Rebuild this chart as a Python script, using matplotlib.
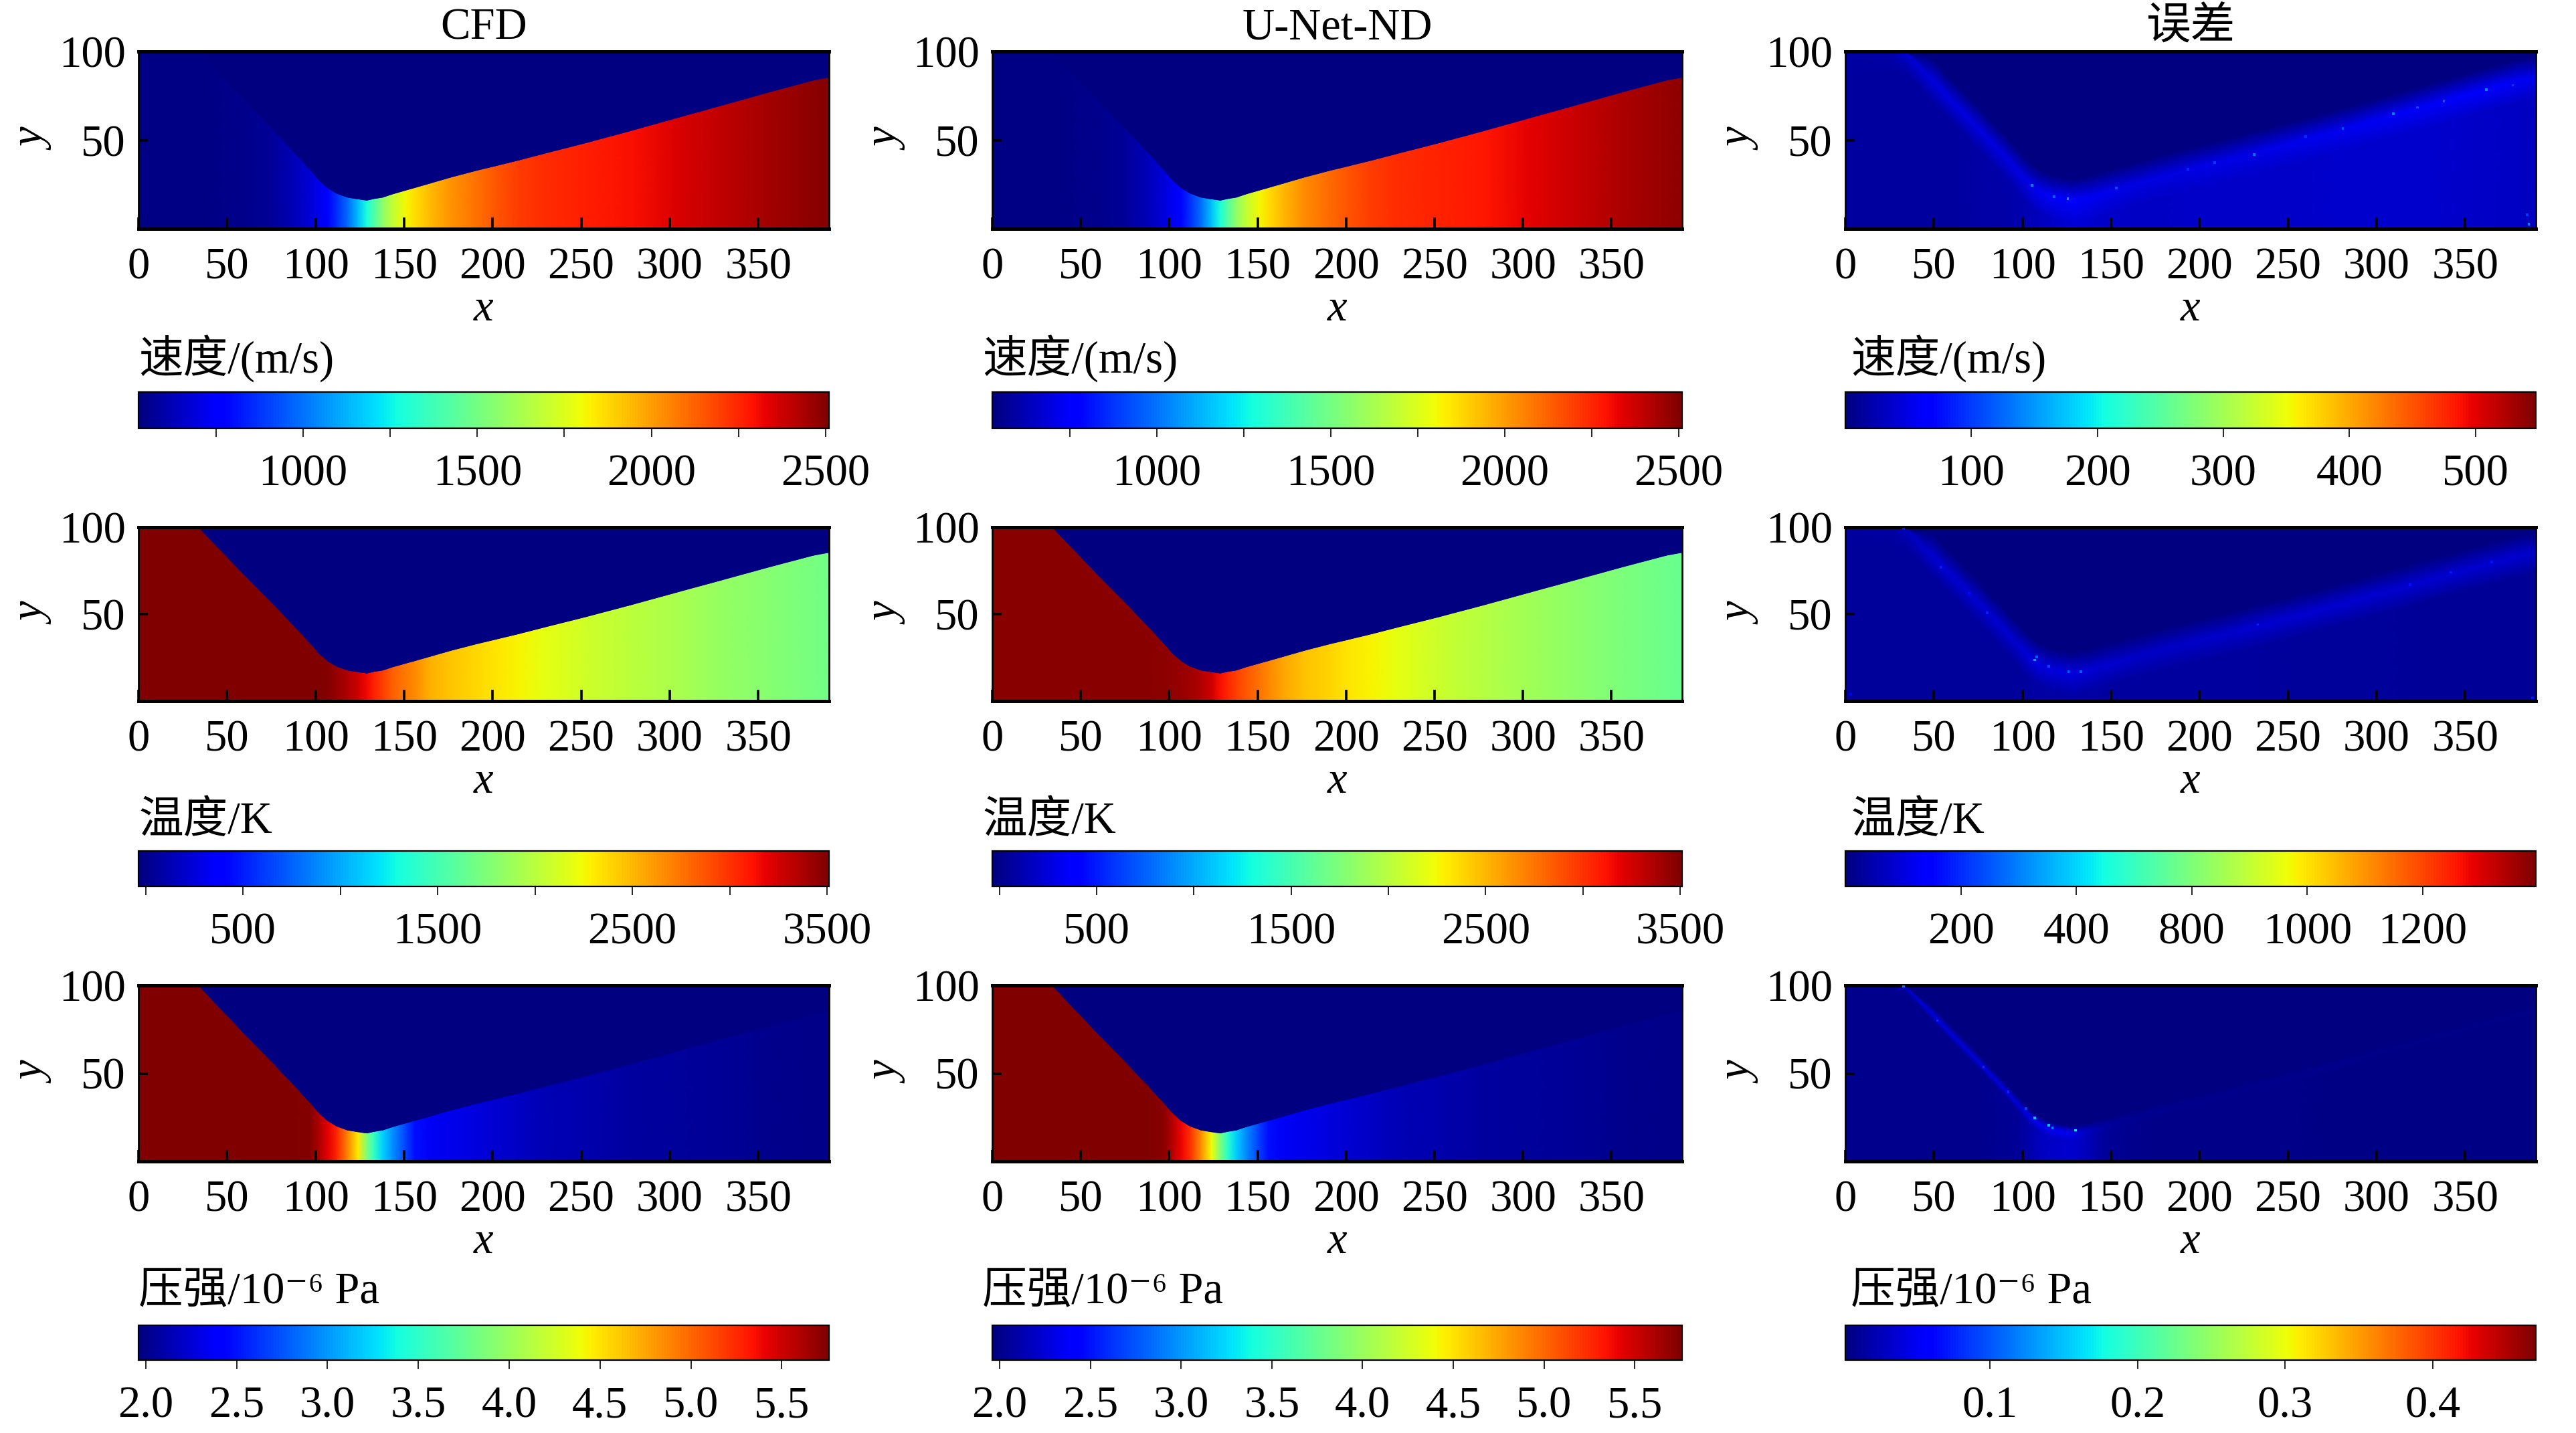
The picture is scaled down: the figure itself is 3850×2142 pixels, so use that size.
# -*- coding:utf-8 -*-

import numpy as np
import matplotlib
matplotlib.use('Agg')
import matplotlib.pyplot as plt
from matplotlib.colors import Normalize

plt.rcParams['font.family'] = ['Liberation Serif', 'Noto Sans CJK SC', 'DejaVu Sans']
plt.rcParams['axes.unicode_minus'] = False

# stations along the nozzle and the wall height there
station_x = [0, 26, 34, 49, 61, 74, 87, 97, 102, 107, 112, 118, 124, 129, 133, 138, 143,
             151, 156, 165, 176, 190, 202, 215, 228, 253, 279, 304, 330, 355, 381, 390]
wall_y = [100, 100, 100, 84, 71.4, 58, 44.3, 33.3, 27.5, 23, 20, 17.8, 16.8, 16.1, 17, 17.8, 19.5,
          21.8, 23.2, 25.8, 29, 32.7, 35.6, 38.8, 42.2, 48.6, 55.6, 62.6, 69.8, 76.8, 83.8, 85.5]

# gas values at the stations
speed_cfd = [537, 540, 542, 547, 553, 570, 620, 680, 720, 780, 864, 980, 1140, 1290, 1410, 1560, 1677,
             1810, 1860, 1940, 2020, 2090, 2150, 2205, 2235, 2265, 2295, 2350, 2400, 2445, 2482, 2495]
speed_unet = [537, 540, 542, 547, 553, 572, 625, 685, 725, 790, 875, 990, 1150, 1300, 1420, 1565, 1680,
              1810, 1865, 1945, 2030, 2100, 2155, 2205, 2235, 2260, 2285, 2335, 2385, 2430, 2470, 2485]
temp_cfd = [3515, 3515, 3515, 3515, 3515, 3515, 3512, 3510, 3505, 3490, 3440, 3370, 3262, 3155, 3066, 2942, 2836,
            2730, 2676, 2517, 2446, 2375, 2322, 2269, 2198, 2091, 2002, 1932, 1843, 1790, 1719, 1683]
temp_unet = [3480, 3475, 3470, 3470, 3480, 3470, 3470, 3460, 3450, 3440, 3410, 3350, 3270, 3130, 3040, 2950, 2860,
             2760, 2690, 2560, 2470, 2390, 2330, 2275, 2200, 2075, 1975, 1900, 1810, 1750, 1680, 1640]
press_cfd = [5.78, 5.78, 5.78, 5.78, 5.78, 5.78, 5.76, 5.74, 5.61, 5.42, 5.27, 4.89, 4.47, 3.86, 3.52, 3.21, 2.99,
             2.68, 2.49, 2.36, 2.32, 2.28, 2.23, 2.19, 2.15, 2.11, 2.07, 2.055, 2.036, 2.017, 2.0, 1.99]
press_unet = [5.78, 5.78, 5.78, 5.78, 5.78, 5.78, 5.76, 5.72, 5.58, 5.40, 5.22, 4.85, 4.40, 3.85, 3.50, 3.20, 2.97,
              2.66, 2.48, 2.36, 2.32, 2.28, 2.23, 2.19, 2.15, 2.11, 2.07, 2.055, 2.036, 2.017, 2.0, 1.99]

# error panels: value on the wall ridge and value in the gas under it
speed_err_ridge = [18, 20, 40, 46, 46, 46, 46, 48, 50, 54, 56, 58, 60, 60, 58, 56, 54,
                   52, 50, 48, 48, 48, 50, 50, 50, 52, 54, 56, 58, 60, 58, 50]
speed_err_below = [16, 16, 16, 17, 17, 18, 20, 22, 24, 28, 32, 36, 40, 42, 42, 40, 38,
                   36, 35, 34, 34, 35, 35, 36, 36, 36, 37, 38, 38, 36, 33, 30]
temp_err_ridge = [35, 38, 70, 88, 88, 88, 85, 88, 95, 105, 102, 100, 100, 100, 95, 90, 88,
                  85, 80, 78, 78, 78, 80, 84, 88, 85, 85, 85, 85, 88, 88, 78]
temp_err_below = [30, 30, 32, 32, 32, 32, 32, 32, 34, 38, 40, 40, 42, 44, 42, 40, 38,
                  36, 35, 34, 34, 34, 34, 34, 34, 32, 32, 30, 28, 26, 24, 24]
press_err_ridge = [.008, .008, .035, .042, .042, .042, .042, .042, .045, .050, .050, .050, .050, .045, .035, .026, .020,
                   .014, .012, .011, .010, .009, .009, .009, .009, .009, .008, .007, .007, .006, .006, .006]
press_err_below = [.008, .008, .008, .008, .008, .008, .010, .012, .018, .024, .030, .032, .034, .034, .030, .024, .018,
                   .012, .010, .008, .007, .007, .006, .006, .006, .006, .005, .005, .005, .004, .004, .004]
# brightest single cells in the error panels
speed_hot_x = [362, 338, 309.5, 281, 231, 153, 125.7, 118, 105.5, 386, 385, 377, 323, 260, 208.6, 193.5]
speed_hot_y = [78.6, 72, 65, 56.6, 42, 23, 17, 18, 24.5, 2.6, 8, 81, 68.5, 52, 37.4, 33.7]
speed_hot_v = [140, 120, 140, 110, 130, 110, 150, 120, 140, 140, 100, 100, 110, 90, 100, 90]
temp_hot_x = [107, 126, 133, 115, 80, 54, 233, 342, 365, 319, 33, 3, 388, 108, 70]
temp_hot_y = [23.6, 17, 17, 20, 50.7, 77, 44, 74, 80, 67, 99, 4, 2, 25.5, 62]
temp_hot_v = [340, 260, 260, 230, 190, 180, 190, 180, 170, 170, 170, 150, 170, 260, 160]
press_hot_x = [107, 115, 130, 117, 33, 52, 78, 92, 102]
press_hot_y = [24.7, 20.5, 17.7, 19, 99.7, 80, 53.6, 39.5, 30]
press_hot_v = [.15, .15, .17, .12, .12, .08, .08, .08, .09]

col_titles = ['CFD', 'U-Net-ND', '误差']
row_labels = ['速度/(m/s)', '温度/K', '压强/10⁻⁶ Pa']

# colour ranges
speed_range = (527, 2510)
temp_range = (-37, 3510)
press_range = (1.96, 5.76)
speed_err_range = (0, 548)
temp_err_range = (0, 1196)
press_err_range = (0.002, 0.47)

# colourbar ticks (every other one carries no label in the top rows)
speed_ticks = [750, 1000, 1250, 1500, 1750, 2000, 2250, 2500]
speed_tick_labels = ['', '1000', '', '1500', '', '2000', '', '2500']
temp_ticks = [0, 500, 1000, 1500, 2000, 2500, 3000, 3500]
temp_tick_labels = ['', '500', '', '1500', '', '2500', '', '3500']
press_ticks = [2.0, 2.5, 3.0, 3.5, 4.0, 4.5, 5.0, 5.5]
press_tick_labels = ['2.0', '2.5', '3.0', '3.5', '4.0', '4.5', '5.0', '5.5']
speed_err_ticks = [100, 200, 300, 400, 500]
speed_err_labels = ['100', '200', '300', '400', '500']
temp_err_ticks = [200, 400, 600, 800, 1000]
temp_err_labels = ['200', '400', '800', '1000', '1200']  # printed like this in the source figure
press_err_ticks = [.1, .2, .3, .4]
press_err_labels = ['0.1', '0.2', '0.3', '0.4']

W, H = 3850, 2142
FS = 48
col_px = [(207, 1239), (1483, 2514), (2758, 3790)]
row_px = [(77, 342), (788, 1048), (1473, 1736)]
bar_px = [(586, 640), (1272, 1325), (1981, 2033)]
label_dy = [28, 27, 33]
label_dx = [0, -15, 8]

fig = plt.figure(figsize=(W / 100, H / 100), dpi=100)


def make_axes(x0, x1, y0, y1):
    return fig.add_axes([x0 / W, 1 - y1 / H, (x1 - x0) / W, (y1 - y0) / H])


def gas_mesh(ax, values, vrange):
    # wall splits every column in gas below and still background above
    norm = Normalize(*vrange)
    xs = np.array(station_x, dtype=float)
    wall = np.array(wall_y, dtype=float)
    vals = np.array(values, dtype=float)
    X = np.vstack([xs] * 4)
    Y = np.vstack([np.zeros_like(wall), wall, wall + 0.01, np.full_like(wall, 100.0)])
    C = np.vstack([vals, vals, np.full_like(vals, vrange[0]), np.full_like(vals, vrange[0])])
    return ax.pcolormesh(X, Y, C, shading='gouraud', cmap='jet', norm=norm)


def err_mesh(ax, ridge, below, band, vrange, hx, hy, hv):
    norm = Normalize(*vrange)
    xs = np.array(station_x, dtype=float)
    wall = np.array(wall_y, dtype=float)
    r = np.array(ridge, dtype=float)
    b = np.array(below, dtype=float)
    zero = np.full_like(r, vrange[0])
    X = np.vstack([xs] * 5)
    Y = np.vstack([np.zeros_like(wall), np.maximum(wall - band, 0.01), wall,
                   np.minimum(wall + band, 100.0), np.full_like(wall, 100.0)])
    C = np.vstack([b, b, r, zero, zero])
    m = ax.pcolormesh(X, Y, C, shading='gouraud', cmap='jet', norm=norm)
    ax.scatter(hx, hy, c=hv, cmap='jet', norm=norm, s=7, marker='s', linewidths=0, zorder=3)
    return m


def style_axes(ax, title=None):
    ax.set_xlim(0, 390)
    ax.set_ylim(0, 100)
    ax.set_xticks(range(0, 351, 50))
    ax.set_yticks([50, 100])
    ax.tick_params(axis='x', direction='in', length=12, width=2.6, labelsize=FS, pad=20)
    ax.tick_params(axis='y', direction='in', length=10, width=2.6, labelsize=FS, pad=14)
    ax.spines['top'].set_linewidth(3.6)
    ax.spines['bottom'].set_linewidth(3.6)
    ax.spines['left'].set_linewidth(2)
    ax.spines['right'].set_linewidth(2)
    ax.set_xlabel('x', fontsize=FS, style='italic', labelpad=1)
    ax.set_ylabel('y', fontsize=FS, style='italic', labelpad=4)
    if title:
        ax.set_title(title, fontsize=FS, pad=13)


def add_bar(mesh, c, r, ticks, labels):
    cax = make_axes(col_px[c][0], col_px[c][1], bar_px[r][0], bar_px[r][1])
    cb = fig.colorbar(mesh, cax=cax, orientation='horizontal')
    cb.set_ticks(ticks)
    cb.set_ticklabels(labels)
    cb.ax.tick_params(length=9, width=1.2, labelsize=FS, pad=19)
    cb.outline.set_linewidth(1.6)
    cax.annotate(row_labels[r], xy=(0, 1), xycoords='axes fraction',
                 xytext=(label_dx[c], label_dy[r]), textcoords='offset pixels',
                 fontsize=FS, va='baseline', ha='left')


gas_rows = [(speed_cfd, speed_unet, speed_range, speed_ticks, speed_tick_labels),
            (temp_cfd, temp_unet, temp_range, temp_ticks, temp_tick_labels),
            (press_cfd, press_unet, press_range, press_ticks, press_tick_labels)]
err_rows = [(speed_err_ridge, speed_err_below, 12, speed_err_range, speed_hot_x, speed_hot_y, speed_hot_v,
             speed_err_ticks, speed_err_labels),
            (temp_err_ridge, temp_err_below, 12, temp_err_range, temp_hot_x, temp_hot_y, temp_hot_v,
             temp_err_ticks, temp_err_labels),
            (press_err_ridge, press_err_below, 4, press_err_range, press_hot_x, press_hot_y, press_hot_v,
             press_err_ticks, press_err_labels)]

for r in range(3):
    y0, y1 = row_px[r]
    cfd, unet, vr, ticks, labels = gas_rows[r]
    for c, vals in enumerate([cfd, unet]):
        ax = make_axes(col_px[c][0], col_px[c][1], y0, y1)
        m = gas_mesh(ax, vals, vr)
        style_axes(ax, col_titles[c] if r == 0 else None)
        add_bar(m, c, r, ticks, labels)
    ridge, below, band, evr, hx, hy, hv, eticks, elabels = err_rows[r]
    ax = make_axes(col_px[2][0], col_px[2][1], y0, y1)
    m = err_mesh(ax, ridge, below, band, evr, hx, hy, hv)
    style_axes(ax, col_titles[2] if r == 0 else None)
    add_bar(m, 2, r, eticks, elabels)

fig.savefig('out.png', dpi=100)
